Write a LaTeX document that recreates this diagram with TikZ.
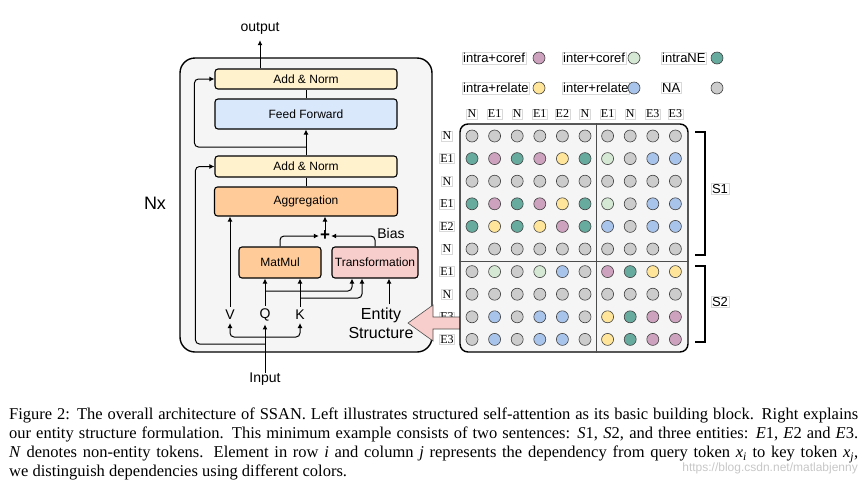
\documentclass[tikz,border=0pt]{standalone}
\usepackage{fontspec}
\setmainfont{Liberation Serif}
\newfontfamily\arialfont{Liberation Sans}
\usetikzlibrary{arrows.meta}

\definecolor{addnorm}{HTML}{FFF2CC}
\definecolor{ffwd}{HTML}{DAE8FC}
\definecolor{aggr}{HTML}{FFCC99}
\definecolor{trans}{HTML}{F8CECC}
\definecolor{blockbg}{HTML}{F5F5F5}
% dependency colours
\definecolor{mP}{HTML}{CDA2BE}
\definecolor{mG}{HTML}{D5E8D4}
\definecolor{mT}{HTML}{67AB9F}
\definecolor{mY}{HTML}{FFE599}
\definecolor{mB}{HTML}{A9C4EB}
\definecolor{mN}{HTML}{CCCCCC}

\tikzset{
  blk/.style={draw, line width=1.1pt, rounded corners=3pt, inner sep=0pt,
    font=\arialfont\fontsize{12}{12}\selectfont},
  lbl/.style={inner sep=0pt, font=\arialfont\fontsize{14}{14}\selectfont},
  conn/.style={line width=1pt, rounded corners=4pt},
  arr/.style={conn, -{Latex[length=5pt,width=5pt]}},
  tok/.style={draw=black!15, line width=0.4pt, inner sep=1pt,
    font=\fontsize{12}{12}\selectfont},
  leg/.style={draw=black!15, line width=0.4pt, inner sep=1pt, anchor=west,
    font=\arialfont\fontsize{13}{13}\selectfont},
  dot/.style={circle, draw=black!75, line width=0.6pt, minimum size=12pt, inner sep=0pt},
}

\begin{document}
\begin{tikzpicture}[x=1pt, y=-1pt]
\useasboundingbox (0,0) rectangle (868,483);

% structured self-attention block
\node[draw, line width=1.4pt, rounded corners=15pt, fill=blockbg,
  minimum width=252pt, minimum height=294pt] (block) at (306,205) {};
\node[font=\arialfont\fontsize{18}{18}\selectfont, inner sep=0pt] (nx) at (155,203) {Nx};

\node[blk, fill=addnorm, minimum width=182pt, minimum height=20pt] (an1) at (306,79) {Add \& Norm};
\node[blk, fill=ffwd, minimum width=182pt, minimum height=30pt] (ff) at (306,114) {Feed Forward};
\node[blk, fill=addnorm, minimum width=182pt, minimum height=21pt] (an2) at (306,166.5) {Add \& Norm};
\node[blk, fill=aggr, minimum width=183pt, minimum height=29pt] (agg) at (306,201.5) {Aggregation};
\node[blk, fill=aggr, minimum width=82pt, minimum height=31pt] (mm) at (280,262.5) {MatMul};
\node[blk, fill=trans, minimum width=86pt, minimum height=31pt] (tf) at (375,262.5) {Transformation};

\node[lbl] (out) at (260,28) {output};
\node[lbl] (inp) at (265,379) {Input};
\node[lbl] (v) at (230,315) {V};
\node[lbl] (q) at (265,315) {Q};
\node[lbl] (k) at (300,315) {K};
\node[lbl] (bias) at (391,233) {Bias};
\node[inner sep=0pt, align=center, font=\arialfont\fontsize{16}{19}\selectfont] (ent) at (381,323) {Entity\\Structure};
\node[inner sep=0pt, font=\arialfont\bfseries\fontsize{17}{17}\selectfont] (plus) at (325,236) {+};

\coordinate (r1) at (306,147);
\coordinate (r2) at (265,344);
\coordinate (sp) at (265,337);
\coordinate (qb) at (265,291);
\coordinate (kb) at (300,298);

\draw[arr] (an1.north -| out) -- ([yshift=-6pt]out.south);
\draw[conn] (ff.north) -- (an1.south);
\draw[arr] (an2.north) -- (ff.south);
\draw[arr] (r1) -| ([xshift=-20pt]an1.west) -- (an1.west);
\draw[conn] (agg.north) -- (an2.south);
\draw[arr] (r2) -| ([xshift=-19pt]an2.west) -- (an2.west);

\draw[arr] (inp.north) -- ([yshift=-3pt]q.south);
\draw[arr] (sp) -| ([yshift=-3pt]v.south);
\draw[arr] (sp) -| ([yshift=-3pt]k.south);
\draw[arr] ([yshift=3pt]v.north) -- (v.north |- agg.south);
\draw[arr] ([yshift=3pt]q.north) -- (q.north |- mm.south);
\draw[arr] ([yshift=3pt]k.north) -- (k.north |- mm.south);
\draw[arr] (qb) -| ([xshift=-23pt]tf.south);
\draw[arr] (kb) -| ([xshift=-13pt]tf.south);
\draw[arr] ([xshift=8pt,yshift=3pt]ent.north) -- ([xshift=14pt]tf.south);
\draw[arr] (mm.north) |- ([xshift=-1pt]plus.west);
\draw[arr] (tf.north) |- ([xshift=1pt]plus.east);
\draw[arr] (plus.north) -- (plus.north |- agg.south);

% legend
\node[leg] (l1) at (462,58) {intra+coref};
\node[leg] (l2) at (562,58) {inter+coref};
\node[leg] (l3) at (661,58) {intraNE};
\node[leg] (l4) at (462,88) {intra+relate};
\node[leg] (l5) at (562,88) {inter+relate};
\node[leg] (l6) at (661,88) {NA};
\node[dot, fill=mP] (c1) at (539,58) {};
\node[dot, fill=mG] (c2) at (634,58) {};
\node[dot, fill=mT] (c3) at (717,58) {};
\node[dot, fill=mY] (c4) at (539,88) {};
\node[dot, fill=mB] (c5) at (634,88) {};
\node[dot, fill=mN] (c6) at (717,88) {};

% token labels
\foreach \t [count=\k from 0] in {N,E1,N,E1,E2,N,E1,N,E3,E3} {
  \node[tok] (col-\k) at ({472+22.6*\k},114) {\t};
  \node[tok] (row-\k) at (447,{136+22.6*\k}) {\t};
}

% entity structure arrow
\draw[fill=trans, draw=black!70, line width=0.6pt]
  (408,323) -- (433,305) -- (433,317) -- (466,317) -- (466,329) -- (433,329) -- (433,341) -- cycle;

% dependency matrix
\node[draw, line width=1.4pt, rounded corners=8pt, fill=blockbg,
  minimum width=228pt, minimum height=228pt] (mat) at (574,238) {};
\draw[black!70, line width=0.8pt] ([xshift=22pt]mat.north) -- ([xshift=22pt]mat.south);
\draw[black!70, line width=0.8pt] ([yshift=-23pt]mat.west) -- ([yshift=-23pt]mat.east);

\foreach \rowdots [count=\r from 0] in {
  {N,N,N,N,N,N,N,N,N,N},
  {T,P,T,P,Y,T,G,N,B,B},
  {N,N,N,N,N,N,N,N,N,N},
  {T,P,T,P,Y,T,G,N,B,B},
  {T,Y,T,Y,P,T,B,N,B,B},
  {N,N,N,N,N,N,N,N,N,N},
  {N,G,N,G,B,N,P,T,Y,Y},
  {N,N,N,N,N,N,N,N,N,N},
  {N,B,N,B,B,N,Y,T,P,P},
  {N,B,N,B,B,N,Y,T,P,P}} {
  \foreach \c [count=\k from 0] in \rowdots
    \node[dot, fill=m\c] (d-\r-\k) at ({472+22.6*\k},{136+22.6*\r}) {};
}

% sentence brackets
\draw[line width=1.4pt] (695,132) -- (705,132) -- (705,255) -- (695,255);
\draw[line width=1.4pt] (695,266) -- (705,266) -- (705,342) -- (695,342);
\node[leg, anchor=center] (s1) at (720,189) {S1};
\node[leg, anchor=center] (s2) at (720,302) {S2};

% caption
\node[anchor=north west, text width=849pt, align=justify, inner sep=0pt,
  font=\fontsize{16.5}{19}\selectfont] (cap) at (9,408) {%
Figure 2: The overall architecture of SSAN. Left illustrates structured self-attention as its basic building block. Right explains\linebreak
our entity structure formulation. This minimum example consists of two sentences: \textit{S}1, \textit{S}2, and three entities: \textit{E}1, \textit{E}2 and \textit{E}3.\linebreak
\textit{N} denotes non-entity tokens. Element in row \textit{i} and column \textit{j} represents the dependency from query token \textit{x}\textsubscript{\textit{i}} to key token \textit{x}\textsubscript{\textit{j}},\linebreak
we distinguish dependencies using different colors.};
\node[anchor=east, inner sep=0pt, text=black!22, font=\arialfont\fontsize{12}{12}\selectfont] (wm) at (858,468) {https://blog.csdn.net/matlabjenny};
\end{tikzpicture}
\end{document}
